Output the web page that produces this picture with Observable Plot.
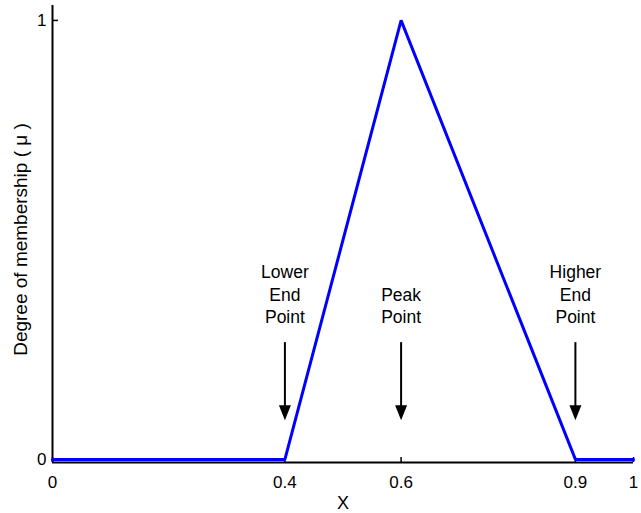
<!DOCTYPE html>
<html>
<head>
<meta charset="utf-8">
<script src="https://cdn.jsdelivr.net/npm/d3@7"></script>
<script src="https://cdn.jsdelivr.net/npm/@observablehq/plot@0.6"></script>
<style>
  html, body { margin: 0; padding: 0; background: #fff; }
</style>
</head>
<body>
<div id="chart"></div>
<script>
// Membership function (triangular)
const xs = [0, 0.4, 0.6, 0.9, 1];
const mu = [0, 0, 1, 0, 0];

// Axis ticks
const xTicks = [0, 0.4, 0.6, 0.9, 1];
const yTicks = [0, 1];

// Annotations
const annotX = [0.4, 0.6, 0.9];
const annotLabels = ["Lower\nEnd\nPoint", "Peak\nPoint", "Higher\nEnd\nPoint"];
const annotTextY = 0.31;
const arrowTop = 0.266;
const arrowTip = 0.089;
const arrowShaftEnd = 0.11;

const yMin = -0.007, yMax = 1.034;

const line = xs.map((x, i) => ({x, y: mu[i]}));
const annots = annotX.map((x, i) => ({x, label: annotLabels[i]}));

const arrowHead = {
  draw(ctx) {
    ctx.moveTo(0, 0);
    ctx.lineTo(-6, -15);
    ctx.lineTo(6, -15);
    ctx.closePath();
  }
};

const font = "'Liberation Sans', Arial, Helvetica, sans-serif";

const chart = Plot.plot({
  width: 641,
  height: 513,
  marginLeft: 52,
  marginRight: 8,
  marginTop: 5,
  marginBottom: 51,
  style: {fontFamily: font, background: "#fff", color: "#000"},
  x: {domain: [0, 1]},
  y: {domain: [yMin, yMax]},
  marks: [
    Plot.axisX({ticks: xTicks, tickSize: 0, tickPadding: 13, fontSize: 17, label: null, tickFormat: d => String(d)}),
    Plot.axisY({ticks: yTicks, tickSize: 0, tickPadding: 6, fontSize: 17, label: null, tickFormat: d => String(d)}),
    Plot.tickX(xTicks, {x: d => d, insetTop: 452, stroke: "#000", strokeWidth: 1.5}),
    Plot.tickY(yTicks, {y: d => d, insetRight: 575, stroke: "#000", strokeWidth: 1.5}),
    Plot.ruleY([yMin], {stroke: "#000", strokeWidth: 2}),
    Plot.ruleX([0], {stroke: "#000", strokeWidth: 2}),
    Plot.line(line, {x: "x", y: "y", stroke: "#0000ff", strokeWidth: 3, strokeLinejoin: "miter"}),
    Plot.ruleX(annots, {x: "x", y1: arrowTop, y2: arrowShaftEnd, stroke: "#000", strokeWidth: 2}),
    Plot.dot(annots, {x: "x", y: arrowTip, symbol: arrowHead, fill: "#000", stroke: "none"}),
    Plot.text(annots, {x: "x", y: annotTextY, text: "label", lineAnchor: "bottom", lineHeight: 1.3, fontSize: 17.5, fill: "#000"}),
    Plot.text(["X"], {text: d => d, frameAnchor: "bottom", lineAnchor: "top", dy: 34, fontSize: 18, fill: "#000"}),
    Plot.text(["Degree of membership ( \u03bc )"], {text: d => d, frameAnchor: "left", textAnchor: "middle", rotate: -90, dx: -32, dy: 5.5, fontSize: 19, fill: "#000"})
  ]
});

document.getElementById("chart").appendChild(chart);
</script>
</body>
</html>
